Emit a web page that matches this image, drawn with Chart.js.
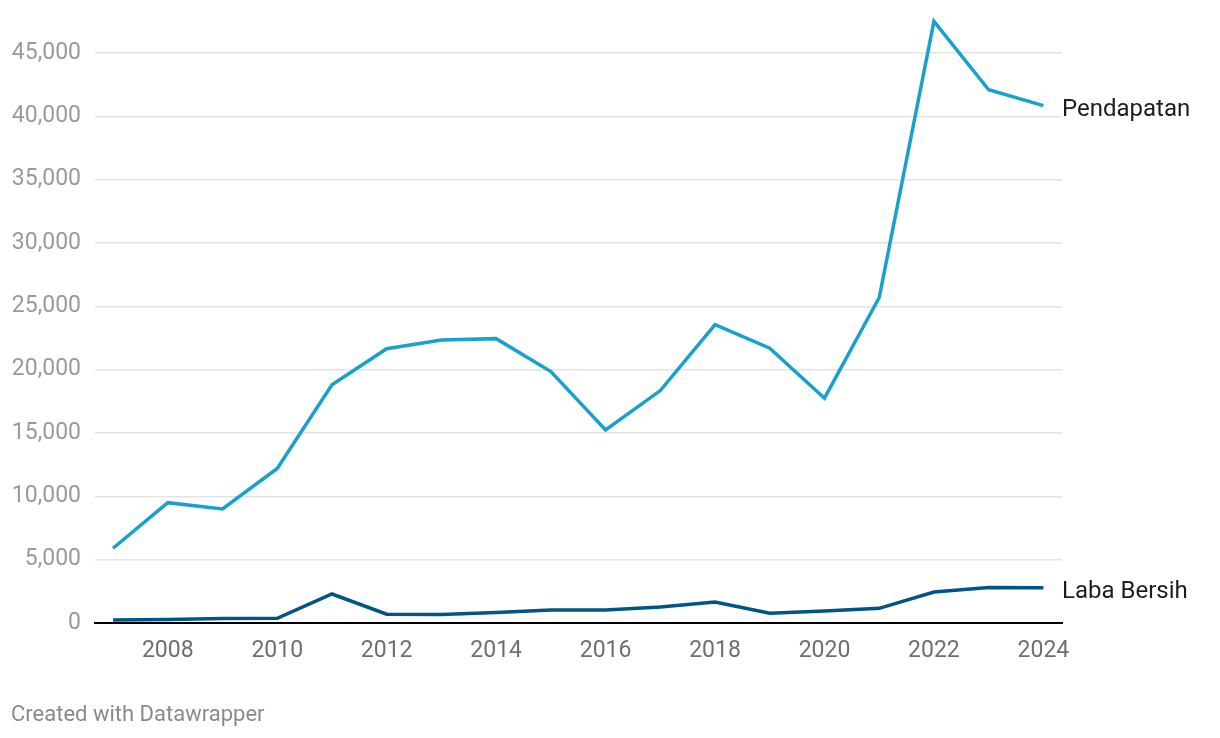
<!DOCTYPE html>
<html>
<head>
<meta charset="utf-8">
<script src="https://cdn.jsdelivr.net/npm/chart.js@4"></script>
<style>
  html, body { margin: 0; padding: 0; background: #fff; }
  #wrap { position: relative; width: 1220px; height: 738px; }
  #footer {
    position: absolute; left: 11px; top: 701px;
    font-family: Roboto, sans-serif; font-size: 22px; color: #8a8a8a;
  }
</style>
</head>
<body>
<div id="wrap">
  <canvas id="chart" width="1220" height="738"></canvas>
  <div id="footer">Created with Datawrapper</div>
</div>
<script>
const years = [2007, 2008, 2009, 2010, 2011, 2012, 2013, 2014, 2015, 2016, 2017, 2018, 2019, 2020, 2021, 2022, 2023, 2024];
const pendapatan = [5900, 9500, 9000, 12200, 18800, 21650, 22350, 22450, 19850, 15250, 18350, 23550, 21700, 17750, 25700, 47500, 42100, 40850];
const labaBersih = [240, 280, 350, 370, 2290, 690, 680, 820, 1030, 1020, 1260, 1660, 770, 950, 1160, 2450, 2800, 2790];
const xTicks = [2008, 2010, 2012, 2014, 2016, 2018, 2020, 2022, 2024];
const yTicks = [0, 5000, 10000, 15000, 20000, 25000, 30000, 35000, 40000, 45000];

const FONT = 'Roboto, sans-serif';

// labels at the end of each line
const endLabels = {
  id: 'endLabels',
  afterDatasetsDraw(chart) {
    const ctx = chart.ctx;
    ctx.save();
    ctx.font = '24px ' + FONT;
    ctx.fillStyle = '#1d1d1d';
    ctx.textBaseline = 'middle';
    ctx.textAlign = 'left';
    chart.data.datasets.forEach((ds, i) => {
      const pts = chart.getDatasetMeta(i).data;
      const last = pts[pts.length - 1];
      ctx.fillText(ds.label, chart.chartArea.right, last.y + 4);
    });
    ctx.restore();
  },
};

new Chart(document.getElementById('chart'), {
  type: 'line',
  data: {
    datasets: [
      {
        label: 'Pendapatan',
        data: years.map((y, i) => ({ x: y, y: pendapatan[i] })),
        borderColor: '#18a1cd',
        borderWidth: 3.5,
        pointRadius: 0,
        tension: 0,
      },
      {
        label: 'Laba Bersih',
        data: years.map((y, i) => ({ x: y, y: labaBersih[i] })),
        borderColor: '#005583',
        borderWidth: 3.5,
        pointRadius: 0,
        tension: 0,
      },
    ],
  },
  options: {
    responsive: false,
    animation: false,
    layout: { padding: { top: 15, right: 158, left: 0, bottom: 0 } },
    plugins: {
      legend: { display: false },
      tooltip: { enabled: false },
    },
    scales: {
      x: {
        type: 'linear',
        min: 2006.67,
        max: 2024.34,
        afterBuildTicks: (scale) => {
          scale.ticks = xTicks.map((v) => ({ value: v }));
        },
        afterFit: (scale) => { scale.height = 115; },
        grid: { display: false, drawTicks: false },
        border: { display: true, color: '#000', width: 2 },
        ticks: {
          color: '#6f6f6f',
          font: { family: FONT, size: 23 },
          padding: 14,
          maxRotation: 0,
          callback: (v) => String(v),
        },
      },
      y: {
        min: 0,
        max: 48000,
        afterBuildTicks: (scale) => {
          scale.ticks = yTicks.map((v) => ({ value: v }));
        },
        afterFit: (scale) => {
          scale.width = 95;
          scale.paddingTop = 0;
          scale.paddingBottom = 0;
        },
        grid: { color: '#e3e3e3', lineWidth: 1.5, drawTicks: false },
        border: { display: false },
        ticks: {
          color: '#9a9a9a',
          font: { family: FONT, size: 23 },
          padding: 14,
          callback: (v) => v.toLocaleString('en-US'),
        },
      },
    },
  },
  plugins: [endLabels],
});
</script>
</body>
</html>
